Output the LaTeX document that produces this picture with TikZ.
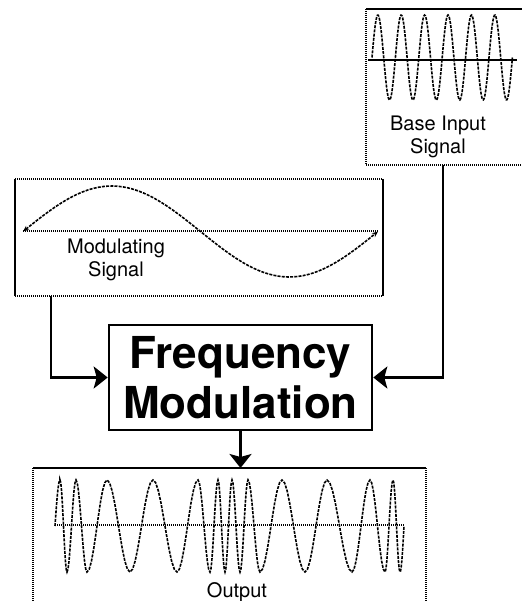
\documentclass[tikz,border=0pt]{standalone}
\usepackage{fontspec}
\setmainfont{TeX Gyre Heros}
\usepackage{tikz}
\usetikzlibrary{arrows.meta, positioning}
\tikzset{
  edgedot/.style={line width=1.2pt, dash pattern=on 1pt off 1pt},
  edgesolid/.style={line width=1.8pt},
  wave/.style={line width=1.6pt, dash pattern=on 3pt off 1.2pt},
  link/.style={line width=2.6pt, -{Stealth[length=14pt, width=22pt, inset=3pt]}},
  sigtext/.style={inner sep=0pt, align=center, font=\fontsize{20}{23}\selectfont},
  fmbox/.style={draw, line width=2.6pt, minimum width=263pt, minimum height=105pt,
    inner sep=0pt, align=center, font=\fontsize{44}{50}\selectfont\bfseries}
}

\begin{document}
\begin{tikzpicture}[x=1pt, y=-1pt]
  \useasboundingbox[fill=white] (0,0) rectangle (522,601);

  % base input signal
  \draw[edgesolid] (366,9) -- (522,9);
  \draw[edgedot] (366,9) -- (366,165) -- (522,165);
  \draw[edgesolid] (368,60) -- (517,60);
  \draw[wave] plot[domain=0:2160, samples=180] ({372+\x/2160*140.4}, {57.5-42.5*sin(\x)});
  \node[sigtext] (baselabel) at (438,136.4) {Base Input\\Signal};

  % modulating signal
  \draw[edgedot] (15,179) -- (383,179);
  \draw[edgedot] (15,296) -- (383,296);
  \draw[edgesolid] (15,179) -- (15,296);
  \draw[edgesolid] (383,179) -- (383,296);
  \draw[edgedot] (23,231) -- (378,231);
  \draw[wave, {Stealth[length=6pt, width=5pt]}-{Stealth[length=6pt, width=5pt]}]
    plot[domain=0:360, samples=72] ({23+\x/360*355}, {231.5-45.5*sin(\x)});
  \node[sigtext] (modlabel) at (116,259.4) {Modulating\\Signal};

  % frequency modulation block
  \node[fmbox] (fm) at (240.5,377.5) {Frequency\\Modulation};

  \coordinate (modout) at (51,296);
  \coordinate (baseout) at (443,165);
  \coordinate (outin) at (240.5,468);
  \draw[link] (modout) |- (fm.west);
  \draw[link] (baseout) |- (fm.east);
  \draw[link] (fm.south) -- (outin);

  % output
  \draw[edgesolid] (33,468) -- (426,468);
  \draw[edgedot] (33,468) -- (33,601);
  \draw[edgedot] (426,468) -- (426,601);
  \draw[edgedot] (55,525) -- (404,525);
  \draw[wave] plot[domain=90:180, samples=8] ({55+5*(\x-90)/90}, {526+46*cos(\x)})
    \foreach \xa/\xb/\s in {60/67/1, 67/76/-1, 76/87/1, 87/107/-1, 107/130/1, 130/153/-1,
      153/177/1, 177/198/-1, 198/210/1, 210/218/-1, 218/225/1, 225/232/-1, 232/240/1,
      240/248/-1, 248/260/1, 260/282/-1, 282/305/1, 305/327/-1, 327/352/1, 352/370/-1,
      370/385/1, 385/393/-1, 393/400/1}
    { -- plot[domain=0:180, samples=10] ({\xa+(\xb-\xa)*\x/180}, {526-\s*46*cos(\x)}) }
    -- plot[domain=0:90, samples=8] ({400+4*\x/90}, {526+46*cos(\x)});
  \node[sigtext, anchor=base] (outlabel) at (237,597) {Output};
\end{tikzpicture}
\end{document}
